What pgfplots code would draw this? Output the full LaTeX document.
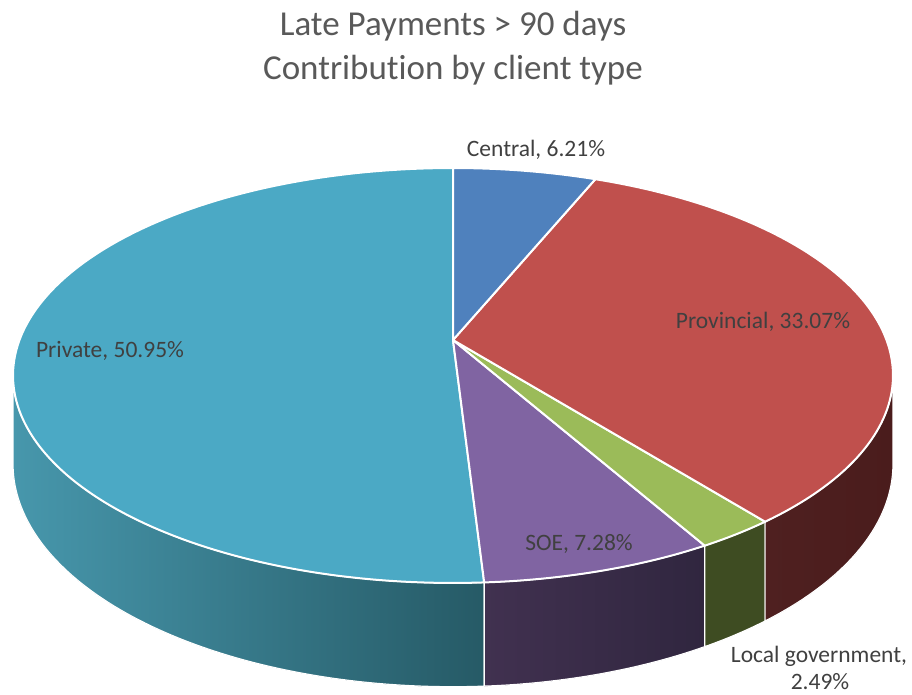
\documentclass[border=0pt]{standalone}
\usepackage{pgfplots}
\pgfplotsset{compat=1.18}
\usepackage{pgfplotstable}
\usepgfplotslibrary{fillbetween}
\usepackage{fontspec}
\setmainfont{Carlito}[Ligatures={NoCommon,NoRare}]

\definecolor{cCentral}{HTML}{4F81BD}
\definecolor{cProv}{HTML}{C0504D}
\definecolor{cLocal}{HTML}{9BBB59}
\definecolor{cSOE}{HTML}{8064A2}
\definecolor{cPriv}{HTML}{4BA9C5}
\definecolor{wPrivL}{HTML}{4797AC}
\definecolor{wPrivR}{HTML}{265A66}
\definecolor{wSOEL}{HTML}{413150}
\definecolor{wSOER}{HTML}{30263F}
\definecolor{wLocal}{HTML}{3E4C22}
\definecolor{wProvL}{HTML}{4F2020}
\definecolor{wProvR}{HTML}{4A1C1C}
\definecolor{titlegray}{HTML}{595959}
\definecolor{labelgray}{HTML}{404040}

\pgfplotstableread{
label value
Central 6.21
Provincial 33.07
Local 2.49
SOE 7.28
Private 50.95
}\piedata

\begin{document}
\begin{tikzpicture}
\pgfplotstablegetelem{0}{value}\of\piedata \let\vA\pgfplotsretval
\pgfplotstablegetelem{1}{value}\of\piedata \let\vB\pgfplotsretval
\pgfplotstablegetelem{2}{value}\of\piedata \let\vC\pgfplotsretval
\pgfplotstablegetelem{3}{value}\of\piedata \let\vD\pgfplotsretval
\pgfplotstablegetelem{4}{value}\of\piedata \let\vE\pgfplotsretval
\pgfmathsetmacro\aA{90}
\pgfmathsetmacro\aB{\aA-3.6*\vA}
\pgfmathsetmacro\aC{\aB-3.6*\vB}
\pgfmathsetmacro\aD{\aC-3.6*\vC}
\pgfmathsetmacro\aE{\aD-3.6*\vD}
\pgfmathsetmacro\aF{\aE-3.6*\vE}
\pgfmathsetmacro\sR{-asin(0.1711)}
\pgfmathsetmacro\sL{-180+asin(0.1711)}
\begin{axis}[
  width=912pt, height=695pt, scale only axis,
  xmin=0, xmax=912, ymin=0, ymax=695,
  hide axis, clip=false,
  declare function={
    ww(\a)=1+0.1711*sin(\a);
    px(\a)=453+433.5*cos(\a)/ww(\a);
    py(\a)=355+201.4*sin(\a)/ww(\a);
    pb(\a)=py(\a)-86/ww(\a);
  },
]
\path (0,0) rectangle (912,695);
% ---- side walls ----
% Private
\addplot[draw=none, name path=privT, domain=\sL:\aE, samples=80, variable=\t] ({px(\t)},{py(\t)});
\addplot[draw=none, name path=privB, domain=\sL:\aE, samples=80, variable=\t] ({px(\t)},{pb(\t)});
\addplot[left color=wPrivL, right color=wPrivR, draw=white, line width=1.2pt] fill between[of=privT and privB];
% SOE
\addplot[draw=none, name path=soeT, domain=\aE:\aD, samples=30, variable=\t] ({px(\t)},{py(\t)});
\addplot[draw=none, name path=soeB, domain=\aE:\aD, samples=30, variable=\t] ({px(\t)},{pb(\t)});
\addplot[left color=wSOEL, right color=wSOER, draw=white, line width=1.2pt] fill between[of=soeT and soeB];
% Local
\addplot[draw=none, name path=locT, domain=\aD:\aC, samples=15, variable=\t] ({px(\t)},{py(\t)});
\addplot[draw=none, name path=locB, domain=\aD:\aC, samples=15, variable=\t] ({px(\t)},{pb(\t)});
\addplot[fill=wLocal, draw=white, line width=1.2pt] fill between[of=locT and locB];
% Provincial
\addplot[draw=none, name path=provT, domain=\aC:\sR, samples=40, variable=\t] ({px(\t)},{py(\t)});
\addplot[draw=none, name path=provB, domain=\aC:\sR, samples=40, variable=\t] ({px(\t)},{pb(\t)});
\addplot[left color=wProvL, right color=wProvR, draw=white, line width=1.2pt] fill between[of=provT and provB];
% ---- top face ----
\addplot[fill=cPriv, draw=white, line width=2pt, line join=round, domain=\aF:\aE, samples=160, variable=\t] ({px(\t)},{py(\t)}) -- (453,355) -- cycle;
\addplot[fill=cSOE, draw=white, line width=2pt, line join=round, domain=\aE:\aD, samples=30, variable=\t] ({px(\t)},{py(\t)}) -- (453,355) -- cycle;
\addplot[fill=cLocal, draw=white, line width=2pt, line join=round, domain=\aD:\aC, samples=15, variable=\t] ({px(\t)},{py(\t)}) -- (453,355) -- cycle;
\addplot[fill=cProv, draw=white, line width=2pt, line join=round, domain=\aC:\aB, samples=100, variable=\t] ({px(\t)},{py(\t)}) -- (453,355) -- cycle;
\addplot[fill=cCentral, draw=white, line width=2pt, line join=round, domain=\aB:\aA, samples=30, variable=\t] ({px(\t)},{py(\t)}) -- (453,355) -- cycle;
% ---- labels ----
\begin{scope}[every node/.style={text=labelgray, font=\fontsize{23.5}{28}\selectfont, anchor=base, inner sep=0pt}]
\node at (536,538) {Central, 6.21\%};
\node at (763,366) {Provincial, 33.07\%};
\node at (110,337) {Private, 50.95\%};
\node at (579,144) {SOE, 7.28\%};
\node at (819,32) {Local government,};
\node at (820,5) {2.49\%};
\end{scope}
\begin{scope}[every node/.style={text=titlegray, font=\fontsize{35}{40}\selectfont, anchor=base, inner sep=0pt}]
\node at (453,659) {Late Payments > 90 days};
\node at (453,615) {Contribution by client type};
\end{scope}
\end{axis}
\end{tikzpicture}
\end{document}
